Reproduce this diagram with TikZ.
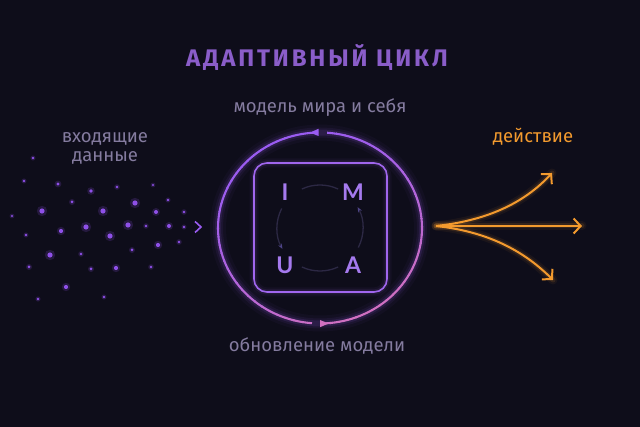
\documentclass[tikz,border=0pt]{standalone}
\usepackage{fontspec}
\setmainfont{Fira Sans}
\newfontfamily\titlefont[LetterSpace=12]{Fira Sans}
\newfontfamily\letterfont{Lato}
\usetikzlibrary{arrows.meta}
\definecolor{bg}{HTML}{0E0D1A}
\definecolor{purpleC}{HTML}{9A5CF2}
\definecolor{pinkC}{HTML}{D070C0}
\definecolor{squareC}{HTML}{A066EE}
\definecolor{letterC}{HTML}{A57AEE}
\definecolor{ringC}{HTML}{2C2844}
\definecolor{ringArrowC}{HTML}{4E4488}
\definecolor{dotC}{HTML}{8E50E8}
\definecolor{labelC}{HTML}{847B9F}
\definecolor{titleC}{HTML}{8A5DC9}
\definecolor{orangeC}{HTML}{F39A2E}
\tikzset{
  labeltext/.style={text=labelC, font=\fontsize{18.5}{21}\selectfont, inner sep=0pt},
  lettertext/.style={text=letterC, font=\letterfont\fontsize{23}{25}\selectfont\bfseries, inner sep=0pt},
  ringline/.style={draw=ringC, line width=1.3},
  actarrow/.style={draw=orangeC, line width=2, -{Straight Barb[length=7pt,width=15pt]}},
  actglow/.style={draw=orangeC, line cap=round},
}
\begin{document}
\begin{tikzpicture}[x=1pt,y=-1pt]
\useasboundingbox (0,0) rectangle (640,427);
\fill[bg] (0,0) rectangle (640,427);

% title
\node[text=titleC, font=\titlefont\fontsize{24}{27}\selectfont\bfseries, inner sep=0pt] (title) at (317,57) {АДАПТИВНЫЙ ЦИКЛ};

% labels
\node[labeltext] (lbltop) at (320,108) {модель мира и себя};
\node[labeltext] (lblbot) at (317,346) {обновление модели};
\node[labeltext, align=center] (lblin) at (105,148) {входящие\\[-2pt]данные};
\node[text=orangeC, font=\fontsize{18.5}{21}\selectfont, inner sep=0pt] (lblout) at (533,137) {действие};

% outer circle glow
\foreach \w/\o in {16/0.04,10/0.07,6/0.12}
  \draw[purpleC, line width=\w, opacity=\o] (320,228) ellipse [x radius=102, y radius=95.5];
% outer circle, left arc
\foreach \a in {94.5,99.5,...,264.5} {
  \pgfmathsetmacro\e{min(\a+5.5,268.9)}
  \pgfmathtruncatemacro\t{100*((1+cos(\a-60))/2)^1.3}
  \draw[line width=2.1, pinkC!\t!purpleC] (320,228) ++(\a:102 and 95.5) arc[start angle=\a, end angle=\e, x radius=102, y radius=95.5];
}
% outer circle, right arc
\foreach \a in {274,279,...,445} {
  \pgfmathsetmacro\e{min(\a+5.5,450)}
  \pgfmathtruncatemacro\t{100*((1+cos(\a-60))/2)^1.3}
  \draw[line width=2.1, pinkC!\t!purpleC] (320,228) ++(\a:102 and 95.5) arc[start angle=\a, end angle=\e, x radius=102, y radius=95.5];
}
% arrow marks on the outer circle
\fill[purpleC] (318.5,128.8) -- (318.5,136) -- (310,132.6) -- cycle;
\fill[pinkC] (320,320) -- (320,327.2) -- (328.5,323.5) -- cycle;

% inner rounded square
\foreach \w/\o in {9/0.05,5/0.10}
  \draw[squareC, line width=\w, opacity=\o, rounded corners=13] (254,163) rectangle (387,292);
\draw[squareC, line width=1.6, rounded corners=13] (254,163) rectangle (387,292);

% faint inner ring
\draw[ringline] (320,228) ++(295:43) arc[start angle=295, end angle=245, radius=43];
\draw[ringline] (320,228) ++(115:43) arc[start angle=115, end angle=65, radius=43];
\draw[ringline, -{Stealth[length=5pt,width=4pt,color=ringArrowC]}] (320,228) ++(207:43) arc[start angle=207, end angle=151, radius=43];
\draw[ringline, -{Stealth[length=5pt,width=4pt,color=ringArrowC]}] (320,228) ++(27:43) arc[start angle=27, end angle=-29, radius=43];

% letters
\node[lettertext] (lI) at (285,192) {I};
\node[lettertext] (lM) at (353,192) {M};
\node[lettertext] (lU) at (285,265) {U};
\node[lettertext] (lA) at (353,265) {A};

% incoming data dots
\foreach \x/\y/\r in {
  33/158/1.3, 24/181/1.3, 58/184/1.7, 91/191/1.9, 117/187/1.4, 153/185/1.2,
  72/202/1.5, 42/211/2.6, 103/211/2.6, 135/203/2.6, 168/200/1.3, 156/212/2.0,
  184/212/1.4, 12/216/1.2, 61/231/2.1, 86/227/2.6, 128/225/2.6, 146/226/1.4,
  169/226/2.0, 184/227/1.3, 26/235/1.3, 110/236/2.6, 179/242/1.4, 158/245/2.1,
  50/255/2.6, 81/254/1.4, 132/250/1.5, 29/267/1.5, 91/269/1.5, 116/268/2.1,
  151/267/1.4, 66/287/2.1, 38/299/1.3, 104/297/1.3} {
  \fill[dotC, opacity=0.18] (\x,\y) circle[radius=\r*2];
  \fill[dotC] (\x,\y) circle[radius=\r];
}
\coordinate (chev) at (201,227);
\draw[purpleC, line width=1.6, line join=miter] (195,221.5) -- (chev) -- (195,232.5);

% action arrows
\coordinate (src) at (436,226);
\coordinate (tA) at (552,173);
\coordinate (tB) at (582,226);
\coordinate (tC) at (553,280);
\foreach \w/\o in {9/0.06,5/0.12} {
  \draw[actglow, line width=\w, opacity=\o] (src) .. controls (492,220) and (527,200) .. (tA);
  \draw[actglow, line width=\w, opacity=\o] (src) -- (tB);
  \draw[actglow, line width=\w, opacity=\o] (src) .. controls (492,232) and (527,254) .. (tC);
}
\draw[actarrow] (src) .. controls (492,220) and (527,200) .. (tA);
\draw[actarrow] (src) -- (tB);
\draw[actarrow] (src) .. controls (492,232) and (527,254) .. (tC);
\end{tikzpicture}
\end{document}
